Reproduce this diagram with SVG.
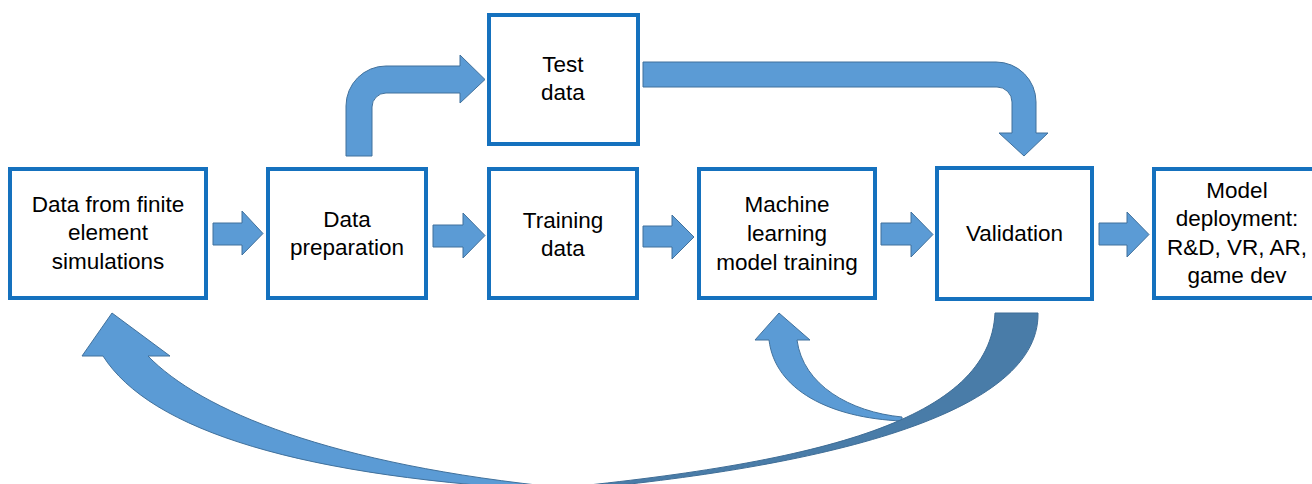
<svg xmlns="http://www.w3.org/2000/svg" width="1312" height="484" viewBox="0 0 1312 484">
<style>
.box{fill:#fff;stroke:#1571BE;stroke-width:4}
.lbl{font-family:"Liberation Sans",Arial,sans-serif;font-size:22.5px;fill:#000;text-anchor:middle}
.arr{fill:#5B9BD5;stroke:#41719C;stroke-width:1}
.dark{fill:#497CA8;stroke:#3F6D96;stroke-width:1}
</style>
<rect width="1312" height="484" fill="#fff"/>
<g id="connectors">
  <path class="arr" d="M213,223 L242,223 L242,211 L263,233.5 L242,255 L242,245 L213,245 Z"/>
  <path class="arr" d="M433,225 L463,225 L463,213 L485,235.5 L463,258 L463,247 L433,247 Z"/>
  <path class="arr" d="M643,226 L672,226 L672,215 L694,237 L672,259 L672,247 L643,247 Z"/>
  <path class="arr" d="M881,223 L911,223 L911,212 L933,234.5 L911,257 L911,245 L881,245 Z"/>
  <path class="arr" d="M1099,223 L1127,223 L1127,212 L1149,234.5 L1127,257 L1127,245 L1099,245 Z"/>
  <path class="arr" d="M346,156 L346,106 A40,40 0 0 1 386,66 L460,66 L460,55 L485,79.5 L460,103 L460,93 L386,93 A14,14 0 0 0 372,107 L372,156 Z"/>
  <path class="arr" d="M643,62 L996,62 A40,40 0 0 1 1036,102 L1036,133 L1048,133 L1024,156 L999,133 L1012,133 L1012,102 A15,15 0 0 0 997,87 L643,87 Z"/>
  <path class="arr" d="M769,340 C775,390 830,418 902,421 L902,417 C850,412 803,385 797,340 L810,340 L779,313 L755,340 Z"/>
  <path class="arr" d="M103,356 C150,430 300,478 565,491 L565,488 C330,465 200,410 148,356 L170,356 L112,313 L82,356 Z"/>
  <path class="dark" d="M560,491 C800,470 1040,420 1038,313 L995,313 C990,420 820,462 560,488 Z"/>
</g>
<g id="n1">
  <rect class="box" x="10" y="169" width="196" height="129"/>
  <text class="lbl" x="108" y="212">Data from finite</text>
  <text class="lbl" x="108" y="240">element</text>
  <text class="lbl" x="108" y="269">simulations</text>
</g>
<g id="n2">
  <rect class="box" x="268" y="169" width="158" height="129"/>
  <text class="lbl" x="347" y="227">Data</text>
  <text class="lbl" x="347" y="255">preparation</text>
</g>
<g id="n3">
  <rect class="box" x="489" y="169" width="148" height="129"/>
  <text class="lbl" x="563" y="228">Training</text>
  <text class="lbl" x="563" y="256">data</text>
</g>
<g id="n4">
  <rect class="box" x="699" y="169" width="176" height="129"/>
  <text class="lbl" x="787" y="212">Machine</text>
  <text class="lbl" x="787" y="241">learning</text>
  <text class="lbl" x="787" y="270">model training</text>
</g>
<g id="n5">
  <rect class="box" x="937" y="168" width="155" height="131"/>
  <text class="lbl" x="1014.5" y="241">Validation</text>
</g>
<g id="n6">
  <rect class="box" x="1154" y="169" width="168" height="129"/>
  <text class="lbl" x="1237" y="198">Model</text>
  <text class="lbl" x="1237" y="226">deployment:</text>
  <text class="lbl" x="1237" y="255">R&amp;D, VR, AR,</text>
  <text class="lbl" x="1237" y="283">game dev</text>
</g>
<g id="n7">
  <rect class="box" x="489" y="15" width="149" height="129"/>
  <text class="lbl" x="563" y="72">Test</text>
  <text class="lbl" x="563" y="100">data</text>
</g>
</svg>
